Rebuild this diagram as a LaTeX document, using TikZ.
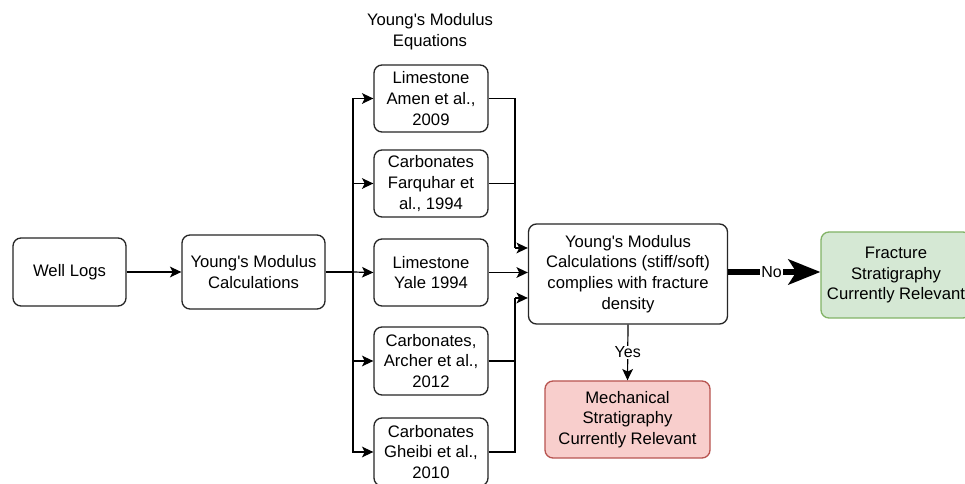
\documentclass[tikz,border=0pt]{standalone}
\usepackage{fontspec}
\setmainfont{Liberation Sans}
\usetikzlibrary{arrows.meta}
\definecolor{gfill}{HTML}{D5E8D4}
\definecolor{gdraw}{HTML}{82B366}
\definecolor{rfill}{HTML}{F8CECC}
\definecolor{rdraw}{HTML}{B85450}
\newcommand{\ap}{\textquotesingle}
\tikzset{
  box/.style={draw=black!85, line width=1pt, rounded corners=6pt, fill=white, align=center, inner sep=0pt, font=\fontsize{12.5}{15.6}\selectfont},
  conn/.style={line width=0.9pt, -{Stealth[length=8.5pt,width=8pt,inset=2pt]}},
  plain/.style={line width=0.9pt},
  lbl/.style={font=\fontsize{12}{14}\selectfont, fill=white, inner sep=1pt}
}
\begin{document}
\begin{tikzpicture}[x=0.75pt,y=-0.75pt]
\clip (0,0) rectangle (965,484);
\fill[white] (0,0) rectangle (965,484);
\node[box, minimum width=113*0.75pt, minimum height=68*0.75pt] (wl) at (69.5,272) {Well Logs};
\node[box, minimum width=143*0.75pt, minimum height=74*0.75pt] (ym) at (253.5,272) {Young\ap s Modulus\\Calculations};
\node[font=\fontsize{12.5}{15.6}\selectfont, align=center] (title) at (430,32) {Young\ap s Modulus\\Equations};
\node[box, minimum width=114*0.75pt, minimum height=67*0.75pt] (b1) at (431,98.5) {Limestone\\Amen et al.,\\2009};
\node[box, minimum width=114*0.75pt, minimum height=67*0.75pt] (b2) at (431,183.5) {Carbonates\\Farquhar et\\al., 1994};
\node[box, minimum width=114*0.75pt, minimum height=67*0.75pt] (b3) at (431,272.5) {Limestone\\Yale 1994};
\node[box, minimum width=114*0.75pt, minimum height=68*0.75pt] (b4) at (431,361) {Carbonates,\\Archer et al.,\\2012};
\node[box, minimum width=114*0.75pt, minimum height=68*0.75pt] (b5) at (431,452) {Carbonates\\Gheibi et al.,\\2010};
\node[box, minimum width=199*0.75pt, minimum height=100*0.75pt] (dec) at (628,274) {Young\ap s Modulus\\Calculations (stiff/soft)\\complies with fracture\\density};
\node[box, fill=gfill, draw=gdraw, minimum width=150*0.75pt, minimum height=86*0.75pt] (fs) at (896,275) {Fracture\\Stratigraphy\\Currently Relevant};
\node[box, fill=rfill, draw=rdraw, minimum width=165*0.75pt, minimum height=77*0.75pt] (ms) at (627.5,419.5) {Mechanical\\Stratigraphy\\Currently Relevant};
\coordinate (split) at (353,272);
\draw[conn] (wl) -- (ym);
\draw[plain] (ym.east) -- (split);
\draw[conn] (split) |- (b1.west);
\draw[conn] (split) |- (b2.west);
\draw[conn] (split) -- (b3.west);
\draw[conn] (split) |- (b4.west);
\draw[conn] (split) |- (b5.west);
\coordinate (m1) at (515,248);
\coordinate (m2) at (515,298);
\draw[plain] (b1.east) -| (m1);
\draw[plain] (b2.east) -| (m1);
\draw[conn] (m1) -- (dec.west |- m1);
\draw[conn] (b3.east) -- (dec.west |- b3.east);
\draw[plain] (b4.east) -| (m2);
\draw[plain] (b5.east) -| (m2);
\draw[conn] (m2) -- (dec.west |- m2);
\draw[line width=4pt, -{Stealth[length=24pt,width=19pt,inset=6pt]}] (dec.east |- 0,272) -- node[lbl, pos=0.47]{No} (fs.west |- 0,272);
\draw[conn] (dec.south) -- node[lbl]{Yes} (ms.north);
\end{tikzpicture}
\end{document}
